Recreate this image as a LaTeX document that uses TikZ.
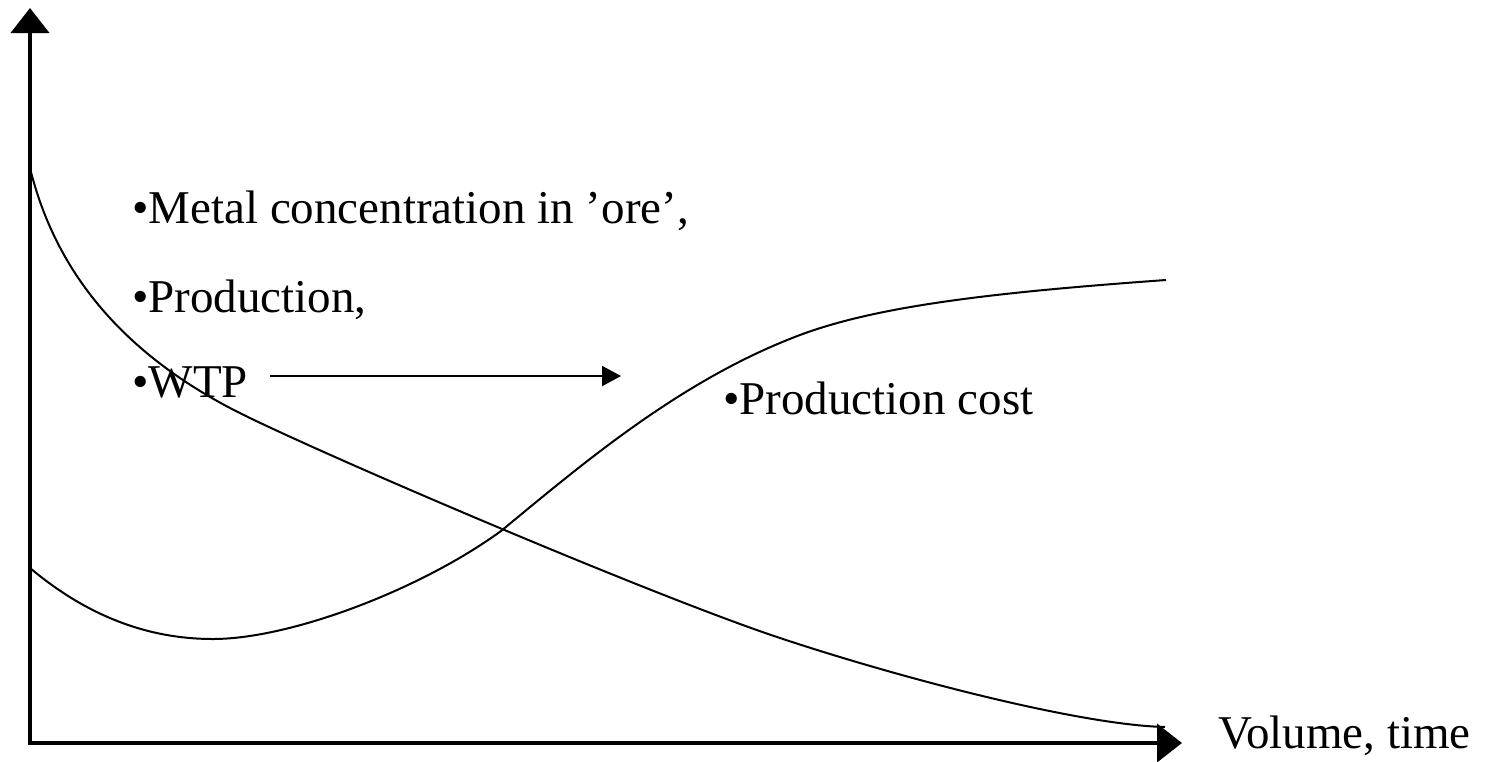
\documentclass[tikz,border=0pt]{standalone}
\usepackage{fontspec}
\setmainfont{Liberation Serif}
\usetikzlibrary{arrows.meta}
\begin{document}
\begin{tikzpicture}[x=1pt,y=-1pt,
  axis/.style={line width=4pt,-{Triangle[length=25pt,width=38pt]}},
  curve/.style={line width=2pt,line join=round},
  pointer/.style={line width=2pt,-{Triangle[length=19pt,width=20pt]}},
  lbl/.style={anchor=base west,inner sep=0pt,font=\fontsize{47}{56}\selectfont}]
\useasboundingbox (0,0) rectangle (1499,761);
\coordinate (origin) at (30,743);
\coordinate (ytop) at (30,8);
\coordinate (xend) at (1182,743);
\draw[axis] ([yshift=2pt]origin) -- (ytop);
\draw[axis] ([xshift=-2pt]origin) -- (xend);
% decreasing curve
\draw[curve] (30,168) .. controls (55,270) and (120,350) .. (230,408)
  .. controls (300,445) and (650,595) .. (780,638)
  .. controls (900,678) and (1080,725) .. (1165,727);
% production cost curve
\draw[curve] (30,568) .. controls (80,610) and (140,639) .. (213,639)
  .. controls (290,639) and (420,590) .. (501,531)
  .. controls (580,466) and (680,380) .. (800,335)
  .. controls (880,305) and (1000,292) .. (1166,280);
\node[lbl] (metal) at (132,223) {•Metal concentration in ’ore’,};
\node[lbl] (prod) at (132,312) {•Production,};
\node[lbl] (wtp) at (132,397) {•WTP};
\node[lbl] (cost) at (723,414) {•Production cost};
\node[lbl] (vol) at (1218,748) {Volume, time};
\coordinate (wtpstart) at (270,376);
\coordinate (wtpend) at (621,376);
\draw[pointer] (wtpstart) -- (wtpend);
\end{tikzpicture}
\end{document}
